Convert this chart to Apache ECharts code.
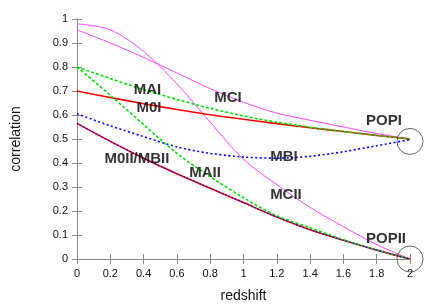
<!DOCTYPE html>
<html>
<head>
<meta charset="utf-8">
<script src="https://cdn.jsdelivr.net/npm/echarts@6/dist/echarts.min.js"></script>
<style>html,body{margin:0;padding:0;background:#fff;}#c{width:436px;height:308px;}</style>
</head>
<body>
<div id="c"></div>
<script>
// redshift grid
const redshift = [0, 0.2, 0.4, 0.6, 0.8, 1.0, 1.2, 1.4, 1.6, 1.8, 2.0];
// correlation curves
const M0I   = [0.70, 0.673, 0.647, 0.623, 0.601, 0.582, 0.564, 0.547, 0.531, 0.515, 0.50];
const MAI   = [0.80, 0.752, 0.706, 0.665, 0.628, 0.596, 0.570, 0.549, 0.531, 0.515, 0.50];
const MBI   = [0.605, 0.555, 0.51, 0.467, 0.44, 0.425, 0.42, 0.428, 0.447, 0.472, 0.497];
const MCI   = [0.955, 0.90, 0.84, 0.775, 0.71, 0.653, 0.608, 0.578, 0.55, 0.523, 0.50];
const M0II  = [0.565, 0.49, 0.42, 0.355, 0.295, 0.235, 0.175, 0.122, 0.078, 0.037, 0.0];
const MBII  = [0.565, 0.49, 0.42, 0.355, 0.295, 0.235, 0.175, 0.122, 0.078, 0.037, 0.0];
const MAII  = [0.80, 0.682, 0.56, 0.44, 0.343, 0.255, 0.18, 0.13, 0.08, 0.038, 0.0];
const MCII  = [0.98, 0.955, 0.865, 0.73, 0.57, 0.415, 0.31, 0.215, 0.135, 0.06, 0.0];
// circled points (POP)
const popPoints = [[2, 0.49], [2, 0.0]];
// annotation texts and their anchor values
const labelNames = ['MAI', 'M0I', 'MCI', 'POPI', 'M0II/MBII', 'MAII', 'MBI', 'MCII', 'POPII'];
const labelAt = [[0.423, 0.705], [0.432, 0.631], [0.907, 0.672], [1.844, 0.577], [0.36, 0.416], [0.769, 0.359], [1.243, 0.425], [1.255, 0.268], [1.856, 0.082]];

const pair = arr => redshift.map((z, i) => [z, arr[i]]);
const fmt = v => String(+v.toFixed(1));
const axisCol = '#888';
const txt = '#111';
const font = 'Liberation Sans';

function line(name, arr, color, type, width, z) {
  return {
    name, type: 'line', data: pair(arr), showSymbol: false, symbol: 'none',
    smooth: 0.3, z: z || 2,
    lineStyle: { color, width, type }
  };
}

const chart = echarts.init(document.getElementById('c'), null, { renderer: 'canvas' });
chart.setOption({
  animation: false,
  backgroundColor: '#fff',
  grid: { left: 77, right: 26, top: 19, bottom: 46, containLabel: false },
  xAxis: [{
    type: 'value', min: 0, max: 2, interval: 0.2,
    name: 'redshift', nameLocation: 'middle', nameGap: 30,
    nameTextStyle: { fontFamily: font, fontSize: 14, color: txt },
    axisLine: { show: true, lineStyle: { color: axisCol, width: 1 } },
    axisTick: { show: true, inside: true, length: 5, lineStyle: { color: axisCol } },
    axisLabel: { fontFamily: font, fontSize: 11, color: txt, margin: 9, formatter: fmt },
    splitLine: { show: false }
  }, {
    type: 'value', min: 0, max: 2, interval: 0.2, position: 'top',
    axisLine: { show: true, lineStyle: { color: axisCol, width: 1 } },
    axisTick: { show: true, inside: true, length: 5, lineStyle: { color: axisCol } },
    axisLabel: { show: false }, splitLine: { show: false }
  }],
  yAxis: [{
    type: 'value', min: 0, max: 1, interval: 0.1,
    name: 'correlation', nameLocation: 'middle', nameGap: 54, nameRotate: 90,
    nameTextStyle: { fontFamily: font, fontSize: 14, color: txt },
    axisLine: { show: true, lineStyle: { color: axisCol, width: 1 } },
    axisTick: { show: true, inside: true, length: 5, lineStyle: { color: axisCol } },
    axisLabel: { fontFamily: font, fontSize: 11, color: txt, margin: 9, formatter: fmt },
    splitLine: { show: false }
  }, {
    type: 'value', min: 0, max: 1, interval: 0.1, position: 'right',
    axisLine: { show: true, lineStyle: { color: axisCol, width: 1 } },
    axisTick: { show: true, inside: true, length: 5, lineStyle: { color: axisCol } },
    axisLabel: { show: false }, splitLine: { show: false }
  }],
  series: [
    line('MCI', MCI, '#ff44ff', 'solid', 1, 1),
    line('MCII', MCII, '#ff44ff', 'solid', 1, 1),
    line('M0I', M0I, '#ff0000', 'solid', 1.6, 2),
    line('MAI', MAI, '#00e000', [3, 2], 1.6, 3),
    line('MBI', MBI, '#0000ff', [2, 2.5], 1.6, 3),
    line('M0II', M0II, '#ff0000', 'solid', 1.6, 2),
    line('MAII', MAII, '#00e000', [3, 2], 1.6, 3),
    line('MBII', MBII, '#0000ff', [1.5, 2], 1.2, 4),
    {
      type: 'scatter', data: popPoints, symbol: 'circle', symbolSize: 26, clip: false, z: 5,
      itemStyle: { color: 'rgba(0,0,0,0)', borderColor: '#444', borderWidth: 1 }, silent: true
    },
    {
      type: 'scatter', symbolSize: 0, clip: false, z: 6, silent: true,
      data: labelAt.map((p, i) => [p[0], p[1], labelNames[i]]),
      label: {
        show: true, position: 'inside', formatter: p => p.data[2],
        fontFamily: font, fontSize: 15, fontWeight: 'bold', color: '#000'
      }
    }
  ]
});
</script>
</body>
</html>
